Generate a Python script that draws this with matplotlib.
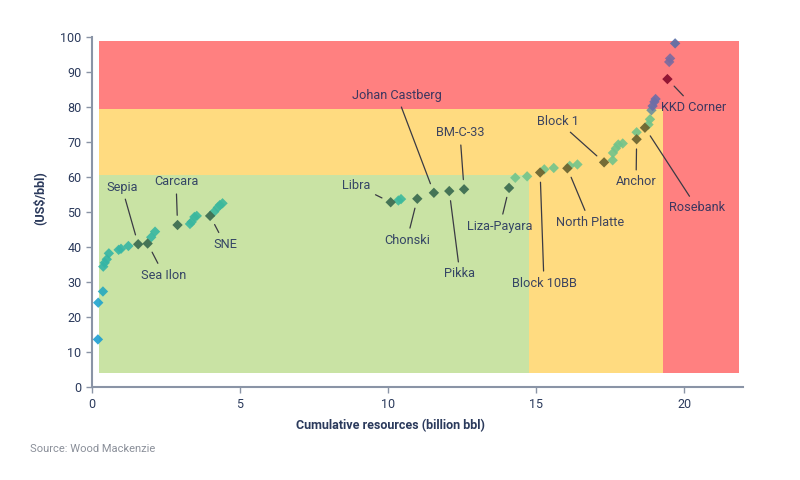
import numpy as np
import matplotlib
matplotlib.use("Agg")
from matplotlib import pyplot as plt
from matplotlib.colors import LinearSegmentedColormap

plt.rcParams['font.family'] = ['Roboto', 'DejaVu Sans']

# unnamed projects (cumulative resources, breakeven)
pts_x = [0.2, 0.21, 0.37, 0.38, 0.43, 0.5, 0.57, 0.9, 0.98, 1.23, 2.0, 2.13,
         3.31, 3.37, 3.46, 3.54, 4.13, 4.25, 4.32, 4.41, 10.35, 10.44,
         14.3, 14.7, 15.28, 15.6, 16.14, 16.4, 17.59, 17.6, 17.7, 17.78, 17.93,
         18.4, 18.8, 18.85, 18.9, 18.94, 19.0, 19.04, 19.5, 19.53, 19.7]
pts_y = [13.7, 24.2, 27.4, 34.5, 35.6, 36.6, 38.3, 39.3, 39.6, 40.4, 42.9, 44.5,
         46.7, 47.3, 48.7, 49.0, 50.2, 51.4, 52.1, 52.6, 53.4, 53.8,
         59.9, 60.3, 62.3, 62.7, 63.3, 63.7, 64.9, 67.0, 68.3, 69.4, 69.7,
         72.9, 75.1, 76.6, 79.2, 80.4, 81.6, 82.4, 93.0, 94.0, 98.3]

# named projects
names = ["Sepia", "Sea Ilon", "Carcara", "SNE", "Libra", "Chonski",
         "Johan Castberg", "Pikka", "BM-C-33", "Liza-Payara", "Block 10BB",
         "North Platte", "Block 1", "Anchor", "Rosebank", "KKD Corner"]
named_x = [1.56, 1.88, 2.89, 3.99, 10.09, 10.99, 11.55, 12.07, 12.57, 14.09,
           15.14, 16.06, 17.3, 18.4, 18.68, 19.44]
named_y = [40.9, 41.1, 46.4, 49.0, 52.9, 53.9, 55.6, 56.1, 56.6, 57.0,
           61.4, 62.6, 64.3, 70.9, 74.2, 88.1]
label_x = [1.01, 2.43, 2.84, 4.49, 8.92, 10.64, 10.3, 12.43, 12.43, 13.78,
           15.27, 16.82, 15.74, 18.38, 20.44, 20.34]
label_y = [57.2, 32.1, 58.7, 40.9, 57.8, 42.1, 83.5, 32.4, 72.7, 46.1,
           29.8, 47.2, 76.1, 58.7, 51.3, 80.1]

# cost bands: (x end, y top)
band_x0 = 0.24
band_y0 = 4
band_ends = [21.85, 19.3, 14.78]
band_tops = [99, 79.6, 60.8]
band_colors = ['#ff8080', '#ffdb80', '#c9e3a4']

navy = '#2b3a5c'
axis_grey = '#8a94a6'

fig = plt.figure(figsize=(8, 4.8), dpi=100)
ax = fig.add_axes([0.115, 0.193, 0.814, 0.729])

for xe, yt, c in zip(band_ends, band_tops, band_colors):
    ax.add_patch(plt.Rectangle((band_x0, band_y0), xe - band_x0, yt - band_y0,
                               facecolor=c, edgecolor='none', zorder=0))

cmap = LinearSegmentedColormap.from_list('pts', [
    (0.0, '#1a98da'), (0.25, '#1fa3cc'), (0.32, '#33b4a8'), (0.55, '#3cb99b'),
    (0.60, '#72c48c'), (0.78, '#70c28a'), (0.80, '#6a6ea8'), (0.95, '#7a6aa0'),
    (1.0, '#4a72aa')])
ax.scatter(pts_x, pts_y, c=np.array(pts_y) / 100, cmap=cmap, vmin=0, vmax=1,
           marker='D', s=28, alpha=0.9, linewidths=0, zorder=3)

named_y_arr = np.array(named_y)
dark = np.where(named_y_arr < 61, '#3e6e52',
                np.where(named_y_arr < 80, '#6e6632', '#8c1030'))
ax.scatter(named_x, named_y, c=list(dark), marker='D', s=28, linewidths=0,
           alpha=0.95, zorder=4)

for n, px, py, lx, ly in zip(names, named_x, named_y, label_x, label_y):
    ax.annotate(n, xy=(px, py), xytext=(lx, ly), ha='center', va='center',
                fontsize=9.2, color='#1b2a5a', alpha=0.85,
                arrowprops=dict(arrowstyle='-', color='#3a3a44', lw=0.9,
                                shrinkA=2, shrinkB=7),
                zorder=5)

ax.set_xlim(0, 22)
ax.set_ylim(0, 100)
ax.set_xticks([0, 5, 10, 15, 20])
ax.set_yticks(np.arange(0, 101, 10))
for s in ['top', 'right']:
    ax.spines[s].set_visible(False)
for s in ['left', 'bottom']:
    ax.spines[s].set_color(axis_grey)
    ax.spines[s].set_linewidth(1.5)
ax.tick_params(colors=axis_grey, labelcolor=navy, labelsize=9, length=4, width=1)

ax.set_xlabel("Cumulative resources (billion bbl)", fontsize=9, fontweight='bold',
              color=navy)
ax.xaxis.set_label_coords(0.458, -0.09)
ax.set_ylabel("(US$/bbl)", fontsize=9, fontweight='bold', color=navy)
ax.yaxis.set_label_coords(-0.07, 0.54)

fig.text(0.0375, 0.058, "Source: Wood Mackenzie", fontsize=8, color='#8a8f99')

fig.savefig("out.png", dpi=100)
